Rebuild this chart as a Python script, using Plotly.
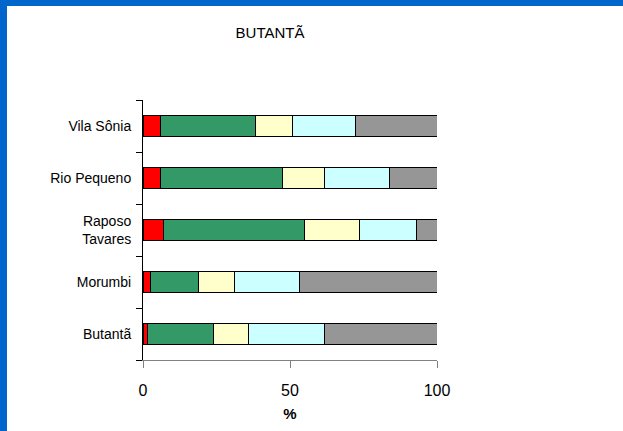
import plotly.graph_objects as go

categories = ["Butantã", "Morumbi", "Raposo<br>Tavares", "Rio Pequeno", "Vila Sônia"]
seg1 = [1.6, 2.7, 6.9, 6.1, 5.8]
seg2 = [22.4, 16.2, 48.2, 41.3, 32.6]
seg3 = [11.9, 12.1, 18.5, 14.3, 12.6]
seg4 = [25.8, 22.3, 19.4, 22.2, 21.4]
seg5 = [38.3, 46.7, 7.0, 16.1, 27.6]
series = [seg1, seg2, seg3, seg4, seg5]
colors = ["#FF0000", "#339966", "#FFFFCC", "#CCFFFF", "#969696"]
x_ticks = [0, 50, 100]

W, H = 623, 431
L, R, T, B = 143, 186, 100, 71
pw, ph = W - L - R, H - T - B

def px(x):
    return (x - L) / pw

def py(y):
    return (H - B - y) / ph

fig = go.Figure()
for vals, col in zip(series, colors):
    fig.add_trace(go.Bar(
        y=categories, x=vals, orientation="h",
        marker=dict(color=col, line=dict(color="#000000", width=1)),
        showlegend=False, hoverinfo="skip",
    ))

FONT = "Arial, Liberation Sans, sans-serif"
blue = "#0066CC"
fig.update_layout(
    width=W, height=H,
    margin=dict(l=L, r=R, t=T, b=B, pad=0),
    barmode="stack", bargap=0.59,
    paper_bgcolor="white", plot_bgcolor="white",
    font=dict(family=FONT, color="#000000"),
    title=dict(text="BUTANTÃ", font=dict(size=15, family=FONT, color="#000"),
               x=px(270), xref="paper", xanchor="center",
               y=1 - 33 / H, yref="container", yanchor="middle"),
    xaxis=dict(range=[0, 100], tickvals=x_ticks, ticks="outside", ticklen=7,
               tickcolor="#808080", showline=True, linecolor="#808080", linewidth=1,
               showgrid=False, zeroline=False,
               tickfont=dict(size=16, family=FONT), ticklabelstandoff=9,
               title=dict(text="<b>%</b>", font=dict(size=15, family=FONT), standoff=10)),
    yaxis=dict(type="category", range=[-0.5, 4.5], tickson="boundaries",
               ticks="outside", ticklen=6, tickcolor="#000000",
               showline=True, linecolor="#000000", linewidth=1,
               showgrid=False, zeroline=False,
               tickfont=dict(size=14, family=FONT), ticklabelstandoff=8),
    shapes=[
        dict(type="rect", xref="paper", yref="paper", x0=px(0), x1=px(7),
             y0=py(H), y1=py(0), fillcolor=blue, line=dict(width=0), layer="above"),
        dict(type="rect", xref="paper", yref="paper", x0=px(0), x1=px(W),
             y0=py(6), y1=py(0), fillcolor=blue, line=dict(width=0), layer="above"),
    ],
)

fig.write_html("out.html", config={"displayModeBar": False},
               post_script="document.body.style.margin='0';")
